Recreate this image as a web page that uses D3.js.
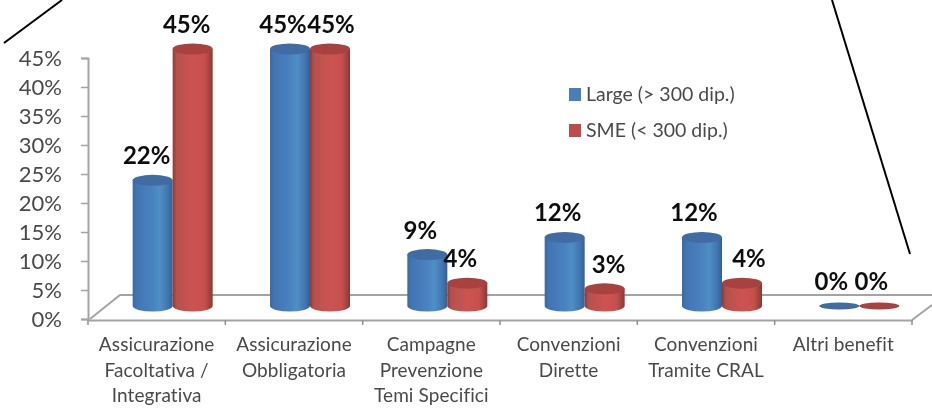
<!DOCTYPE html>
<html>
<head>
<meta charset="utf-8">
<script src="https://cdnjs.cloudflare.com/ajax/libs/d3/7.8.5/d3.min.js"></script>
<style>
  html, body { margin: 0; padding: 0; background: #fff; }
  svg { display: block; }
  text { font-family: Lato, "Open Sans", sans-serif; }
</style>
</head>
<body>
<svg class="svg"></svg>
<script>
const categories = [
  ['Assicurazione', 'Facoltativa /', 'Integrativa'],
  ['Assicurazione', 'Obbligatoria'],
  ['Campagne', 'Prevenzione', 'Temi Specifici'],
  ['Convenzioni', 'Dirette'],
  ['Convenzioni', 'Tramite CRAL'],
  ['Altri benefit']
];
const seriesNames = ['Large (> 300 dip.)', 'SME (< 300 dip.)'];
const large = [22, 45, 9, 12, 12, 0];
const sme = [45, 45, 4, 3, 4, 0];
const yTicks = [0, 5, 10, 15, 20, 25, 30, 35, 40, 45];

const width = 932;
const height = 408;

// label nudges, the labels are placed by hand in the original
const largeNudge = [-6, -7, -7, -7, -8, -8];
const smeNudge = [-6, 1, -7, 4, 7, -8];

const svg = d3.select('.svg').attr('width', width).attr('height', height);
const defs = svg.append('defs');

defs.append('filter').attr('id', 'soft')
  .attr('x', 0).attr('y', 0).attr('width', 1).attr('height', 1)
  .attr('filterUnits', 'objectBoundingBox')
  .append('feGaussianBlur').attr('stdDeviation', 0.6);

function cylinderGradient(id, stops) {
  defs.append('linearGradient').attr('id', id)
    .selectAll('stop')
    .data(stops)
    .join('stop')
    .attr('offset', d => d[0])
    .attr('stop-color', d => d[1]);
}
cylinderGradient('blue-side', [[0, '#3b6a9f'], [0.1, '#4274b3'], [0.5, '#4a82c0'], [0.68, '#4f8fc4'], [0.9, '#3f72ae'], [1, '#335f92']]);
cylinderGradient('red-side', [[0, '#8f3a37'], [0.1, '#b5514e'], [0.5, '#cc5351'], [0.8, '#c6504d'], [1, '#8a3835']]);

const seriesStyle = [
  { name: seriesNames[0], values: large, nudge: largeNudge, side: 'url(#blue-side)', top: '#3f6ca3', swatch: '#4a7ebb' },
  { name: seriesNames[1], values: sme, nudge: smeNudge, side: 'url(#red-side)', top: '#a8423f', swatch: '#be4b48' }
];

const x = d3.scaleBand().domain(d3.range(categories.length)).range([88, 912]);
const yAxisScale = d3.scaleLinear().domain([0, 45]).range([319, 58]);
// the bars stand on the floor, so they have their own baseline
const yBar = d3.scaleLinear().domain([0, 45]).range([306, 49]);
const barWidth = 40;
const depthX = 16;
const ry = 5.5;

const root = svg.append('g').attr('filter', 'url(#soft)');
root.append('rect').attr('width', width).attr('height', height).attr('fill', '#fff');

// floor
const floor = root.append('g').attr('fill', 'none').attr('stroke', '#a3a3a3').attr('stroke-width', 2);
floor.append('path').attr('d', 'M90,319 L120,295 L932,295');
floor.append('path').attr('d', 'M912,320 L932,305');

// axes
const yAxis = root.append('g')
  .attr('transform', 'translate(88,0)')
  .call(d3.axisLeft(yAxisScale).tickValues(yTicks).tickSize(7).tickPadding(19).tickFormat(d => d + '%'));
const xAxis = root.append('g')
  .attr('transform', 'translate(0,320)')
  .call(d3.axisBottom(x).tickValues([]).tickSize(0));

xAxis.selectAll('.xtick')
  .data(d3.range(categories.length + 1))
  .join('line')
  .attr('class', 'xtick')
  .attr('x1', d => 88 + d * x.step())
  .attr('x2', d => 88 + d * x.step())
  .attr('y1', 0)
  .attr('y2', 5)
  .attr('stroke', '#8f8f8f')
  .attr('stroke-width', 1.5);

root.selectAll('.domain').attr('stroke', '#a3a3a3').attr('stroke-width', 2);
yAxis.selectAll('line').attr('stroke', '#a3a3a3').attr('stroke-width', 1.5);
yAxis.selectAll('text').attr('font-size', 22).attr('fill', '#4a4a4a');

// category labels
const catLabel = root.append('g').selectAll('text')
  .data(categories)
  .join('text')
  .attr('text-anchor', 'middle')
  .attr('font-size', 19)
  .attr('letter-spacing', 0.1)
  .attr('fill', '#4a4a4a');

catLabel.selectAll('tspan')
  .data((d, i) => d.map(line => ({ line, i })))
  .join('tspan')
  .attr('x', d => x(d.i) + x.bandwidth() / 2)
  .attr('y', (d, j) => 351 + j * 25.5)
  .text(d => d.line);

// cylinders
seriesStyle.forEach((s, si) => {
  const g = root.append('g');
  const barX = i => x(i) + x.bandwidth() / 2 + depthX + (si - 1) * barWidth;

  const bars = g.selectAll('g')
    .data(s.values)
    .join('g');

  bars.filter(d => d > 0).append('path')
    .attr('fill', s.side)
    .attr('d', (d, i) => {
      const l = barX(i);
      const r = l + barWidth;
      return `M${l},${yBar(d)} L${l},${yBar(0)} A${barWidth / 2},${ry} 0 0 0 ${r},${yBar(0)} L${r},${yBar(d)} Z`;
    });

  bars.append('ellipse')
    .attr('cx', (d, i) => barX(i) + barWidth / 2)
    .attr('cy', d => yBar(d))
    .attr('rx', barWidth / 2)
    .attr('ry', d => d > 0 ? ry : 3.5)
    .attr('fill', s.top);

  root.append('g').selectAll('text')
    .data(s.values)
    .join('text')
    .attr('x', (d, i) => barX(i) + barWidth / 2 + s.nudge[i])
    .attr('y', d => yBar(d) - 16)
    .attr('text-anchor', 'middle')
    .attr('font-size', 24)
    .attr('font-weight', 700)
    .attr('fill', '#111')
    .text(d => d + '%');
});

// legend
const legend = root.append('g').selectAll('g')
  .data(seriesStyle)
  .join('g')
  .attr('transform', (d, i) => `translate(569,${88 + i * 36})`);
legend.append('rect').attr('width', 12).attr('height', 13).attr('fill', d => d.swatch);
legend.append('text')
  .attr('x', 17)
  .attr('y', 13)
  .attr('font-size', 19.5)
  .attr('fill', '#4a4a4a')
  .text(d => d.name);

// hand drawn callout lines over the picture
const callouts = [
  [[4, 43], [62, 0]],
  [[832, 0], [910, 254]]
];
svg.append('g').selectAll('path')
  .data(callouts)
  .join('path')
  .attr('d', d3.line())
  .attr('fill', 'none')
  .attr('stroke', '#000')
  .attr('stroke-width', 2);
</script>
</body>
</html>
